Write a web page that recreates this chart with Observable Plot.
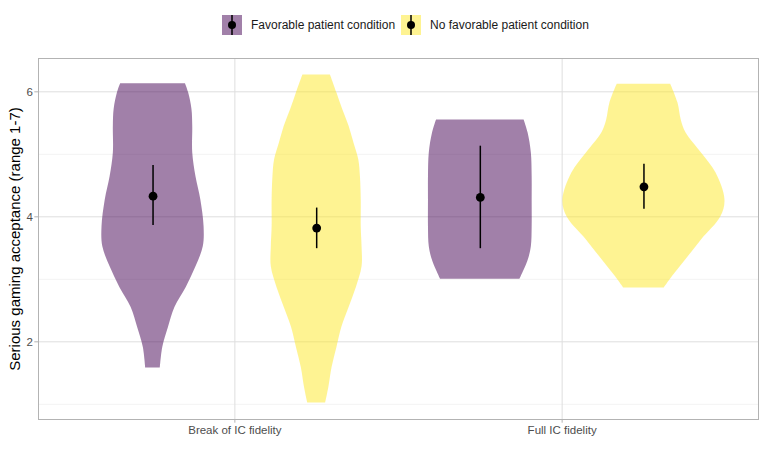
<!DOCTYPE html>
<html>
<head>
<meta charset="utf-8">
<script src="https://cdn.jsdelivr.net/npm/d3@7"></script>
<script src="https://cdn.jsdelivr.net/npm/@observablehq/plot@0.6"></script>
<style>
  html, body { margin: 0; padding: 0; background: #fff; }
  body { width: 766px; height: 450px; overflow: hidden; font-family: "Liberation Sans", Arial, sans-serif; }
  #legend { height: 50px; display: flex; align-items: center; padding-left: 222px; box-sizing: border-box; }
  .item { display: flex; align-items: center; margin-right: 6px; }
  .item svg { display: block; margin-right: 9px; }
  .item span { font-size: 12px; color: #1a1a1a; }
</style>
</head>
<body>
<div id="legend"></div>
<div id="chart"></div>
<script>
// ---- data ----
const categories = ["Break of IC fidelity", "Full IC fidelity"];
const conditions = ["Favorable patient condition", "No favorable patient condition"];
const colors = ["#440154", "#FDE725"];

// summary points (mean with interval), order: [category][condition]
const meanBreak = [4.33, 3.82];
const lowBreak = [3.86, 3.49];
const highBreak = [4.82, 4.14];
const meanFull = [4.31, 4.48];
const lowFull = [3.49, 4.12];
const highFull = [5.13, 4.84];

// violin profiles: [value, relative density]
const breakFavorable = [[6.13,0.40],[5.98,0.44],[5.72,0.48],[5.45,0.49],[5.02,0.49],[4.64,0.53],[4.27,0.59],[3.84,0.63],[3.52,0.62],[3.20,0.53],[2.87,0.41],[2.55,0.27],[2.23,0.19],[1.91,0.12],[1.58,0.09]];
const breakNoFavorable = [[6.27,0.17],[5.98,0.25],[5.72,0.32],[5.45,0.40],[5.18,0.46],[4.91,0.52],[4.64,0.54],[4.27,0.55],[3.84,0.55],[3.52,0.56],[3.20,0.56],[2.87,0.49],[2.55,0.40],[2.23,0.31],[1.91,0.25],[1.59,0.19],[1.27,0.15],[1.02,0.11]];
const fullFavorable = [[5.55,0.54],[5.34,0.59],[5.02,0.63],[4.64,0.64],[4.27,0.64],[3.84,0.64],[3.52,0.63],[3.30,0.59],[3.00,0.49]];
const fullNoFavorable = [[6.12,0.33],[5.82,0.42],[5.55,0.46],[5.34,0.52],[5.02,0.71],[4.70,0.89],[4.27,1.00],[4.00,0.95],[3.63,0.71],[3.30,0.51],[3.04,0.35],[2.86,0.25]];

const yMajor = [2, 4, 6];
const yMinor = [1, 3, 5];

// ---- build tables ----
const dodge = 0.25;      // offset of each condition from category centre
const maxHalf = 0.2475;  // half-width for density 1, in category units
const profiles = [
  {cat: 0, cond: 0, pts: breakFavorable},
  {cat: 0, cond: 1, pts: breakNoFavorable},
  {cat: 1, cond: 0, pts: fullFavorable},
  {cat: 1, cond: 1, pts: fullNoFavorable}
];
const centre = (cat, cond) => cat + 1 + (cond === 0 ? -dodge : dodge);
const violinRows = profiles.flatMap(p => p.pts.map(([v, d]) => ({
  key: p.cat + "-" + p.cond, cond: conditions[p.cond], v,
  x1: centre(p.cat, p.cond) - d * maxHalf,
  x2: centre(p.cat, p.cond) + d * maxHalf
})));
const summary = [];
[[meanBreak, lowBreak, highBreak], [meanFull, lowFull, highFull]].forEach(([m, lo, hi], cat) => {
  m.forEach((val, cond) => summary.push({x: centre(cat, cond), mean: val, lo: lo[cond], hi: hi[cond]}));
});

const font = "'Liberation Sans', Arial, sans-serif";
const chart = Plot.plot({
  width: 766,
  height: 400,
  marginLeft: 38,
  marginRight: 8,
  marginTop: 8,
  marginBottom: 31,
  style: {fontFamily: font, background: "#fff"},
  x: {domain: [0.4, 2.6], axis: null},
  y: {domain: [0.757, 6.533], axis: null},
  color: {domain: conditions, range: colors},
  marks: [
    Plot.ruleY(yMinor, {stroke: "#ebebeb", strokeWidth: 0.6}),
    Plot.ruleY(yMajor, {stroke: "#dedede", strokeWidth: 1}),
    Plot.ruleX([1, 2], {stroke: "#dedede", strokeWidth: 1}),
    Plot.areaX(violinRows, {y: "v", x1: "x1", x2: "x2", z: "key", fill: "cond", fillOpacity: 0.5, curve: "catmull-rom"}),
    Plot.ruleX(summary, {x: "x", y1: "lo", y2: "hi", stroke: "#000", strokeWidth: 1.5}),
    Plot.dot(summary, {x: "x", y: "mean", r: 4.4, fill: "#000"}),
    Plot.frame({stroke: "#b3b3b3", strokeWidth: 1}),
    Plot.axisY({ticks: yMajor, tickFormat: d3.format("d"), tickSize: 3.7, tickPadding: 2, stroke: "#b3b3b3", fill: "#4d4d4d", fontSize: 11.5, label: null}),
    Plot.axisX({ticks: [1, 2], tickFormat: i => categories[i - 1], tickSize: 3.7, tickPadding: 3, stroke: "#b3b3b3", fill: "#4d4d4d", fontSize: 11.5, label: null}),
    Plot.text(["Serious gaming acceptance (range 1-7)"], {frameAnchor: "left", textAnchor: "middle", rotate: -90, dx: -23, fontSize: 15, fill: "#000", text: d => d})
  ]
});
document.getElementById("chart").appendChild(chart);

// legend
const legend = document.getElementById("legend");
conditions.forEach((c, i) => {
  const item = document.createElement("div");
  item.className = "item";
  item.innerHTML = `<svg width="20" height="20"><rect width="20" height="20" fill="${colors[i]}" fill-opacity="0.5"/><line x1="10" x2="10" y1="0" y2="20" stroke="#000" stroke-width="1.5"/><circle cx="10" cy="10" r="4" fill="#000"/></svg><span>${c}</span>`;
  legend.appendChild(item);
});
</script>
</body>
</html>
